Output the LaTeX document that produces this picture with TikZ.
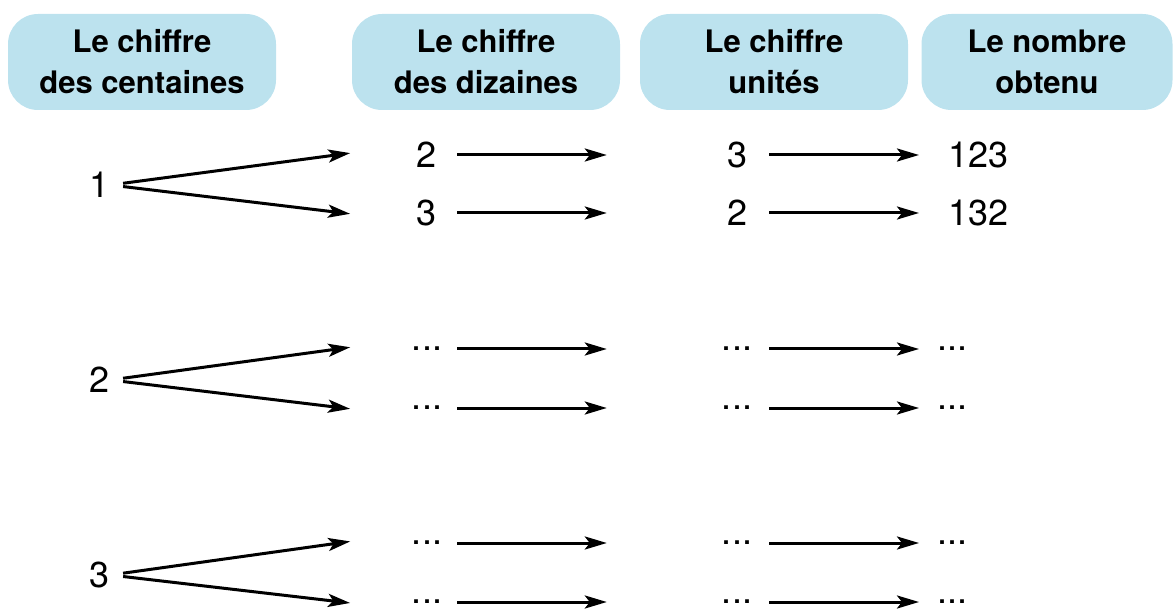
\documentclass[tikz,border=0pt]{standalone}
\usepackage{fontspec}
\setmainfont{TeX Gyre Heros}
\usepackage{tikz}
\usetikzlibrary{arrows.meta,positioning}
\definecolor{headblue}{RGB}{188,226,238}

\begin{document}
\begin{tikzpicture}[
    x=1pt, y=-1pt,
    head/.style={rectangle, fill=headblue, rounded corners=30pt, minimum width=268pt, minimum height=96pt, align=center, font=\fontsize{31}{41}\selectfont\bfseries},
    digit/.style={inner sep=0pt, minimum width=60pt, minimum height=30pt, font=\fontsize{36}{36}\selectfont},
    src/.style={digit, minimum width=20pt},
    res/.style={anchor=west, inner ysep=0pt, inner xsep=#1, font=\fontsize{36}{36}\selectfont},
    arrow/.style={draw=black, line width=3pt, -{Stealth[length=22pt, width=13pt, inset=5pt]}},
    fan/.style={arrow, shorten <=13pt, shorten >=47pt},
    pass/.style={arrow, shorten >=100pt},
    last/.style={arrow, shorten <=2pt}
]
    \useasboundingbox (0,0) rectangle (1175,609);

    % Row 0: column headers
    \node (hcent) at (142,62) [head] {Le chiffre\\des centaines};
    \node (hdiz) at (486,62) [head] {Le chiffre\\des dizaines};
    \node (hunit) at (774,62) [head] {Le chiffre\\unités};
    \node (hnum) at (1047,62) [head, minimum width=251pt] {Le nombre\\obtenu};

    % Row 1: hundreds digit 1
    \node (c1) at (100,185) [src] {1};
    \node (d11) at (427,155) [digit] {2};
    \node (d12) at (427,213) [digit] {3};
    \node (u11) at (737,155) [digit] {3};
    \node (u12) at (737,213) [digit] {2};
    \node (n11) at (919,155) [res=29pt] {123};
    \node (n12) at (919,213) [res=29pt] {132};

    % Row 2: hundreds digit 2
    \node (c2) at (100,380) [src] {2};
    \node (d21) at (427,349) [digit] {...};
    \node (d22) at (427,408) [digit] {...};
    \node (u21) at (737,349) [digit] {...};
    \node (u22) at (737,408) [digit] {...};
    \node (n21) at (919,349) [res=18pt] {...};
    \node (n22) at (919,408) [res=18pt] {...};

    % Row 3: hundreds digit 3
    \node (c3) at (100,575) [src] {3};
    \node (d31) at (427,543) [digit] {...};
    \node (d32) at (427,602) [digit] {...};
    \node (u31) at (737,543) [digit] {...};
    \node (u32) at (737,602) [digit] {...};
    \node (n31) at (919,543) [res=18pt] {...};
    \node (n32) at (919,602) [res=18pt] {...};

    % Branches from the hundreds digit
    \draw [fan] (c1.east) -- (d11.165);
    \draw [fan] (c1.east) -- (d12.192);
    \draw [fan] (c2.east) -- (d21.165);
    \draw [fan] (c2.east) -- (d22.192);
    \draw [fan] (c3.east) -- (d31.165);
    \draw [fan] (c3.east) -- (d32.192);

    % Tens to units
    \draw [pass] (d11.east) -- (u11.west);
    \draw [pass] (d12.east) -- (u12.west);
    \draw [pass] (d21.east) -- (u21.west);
    \draw [pass] (d22.east) -- (u22.west);
    \draw [pass] (d31.east) -- (u31.west);
    \draw [pass] (d32.east) -- (u32.west);

    % Units to the number
    \draw [last] (u11.east) -- (n11.west);
    \draw [last] (u12.east) -- (n12.west);
    \draw [last] (u21.east) -- (n21.west);
    \draw [last] (u22.east) -- (n22.west);
    \draw [last] (u31.east) -- (n31.west);
    \draw [last] (u32.east) -- (n32.west);
\end{tikzpicture}
\end{document}
